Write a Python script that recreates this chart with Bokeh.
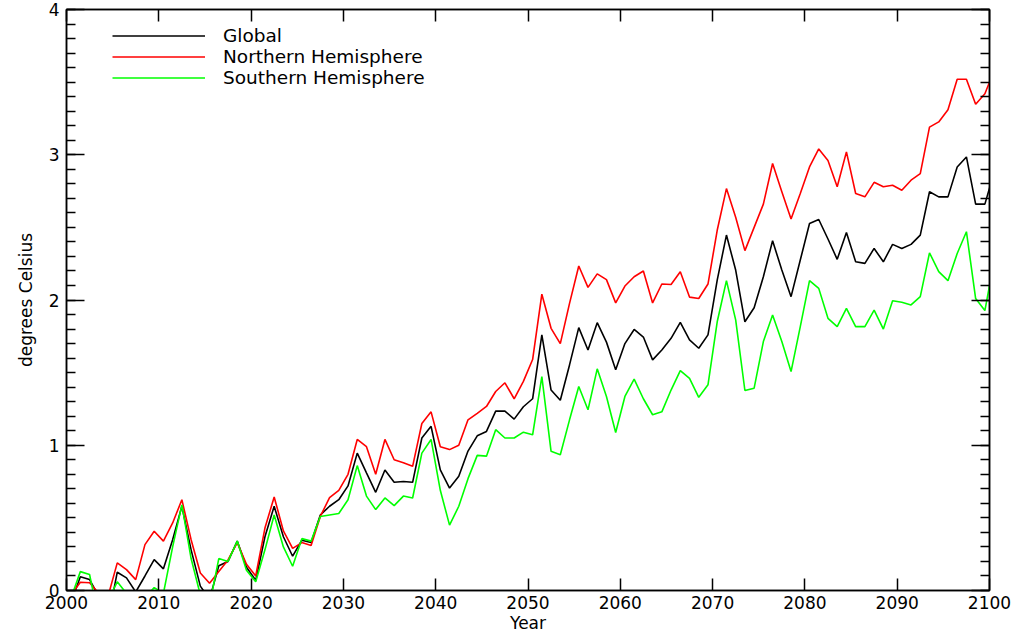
from bokeh.plotting import figure
from bokeh.models import (Range1d, SingleIntervalTicker, LinearAxis, Legend, LegendItem,
                          CustomJSTickFormatter)
from bokeh.embed import file_html
from bokeh.resources import INLINE

years = list(range(2000, 2101))

global_vals = [
    -0.08, 0.094, 0.075, -0.04, -0.2, 0.126, 0.087, -0.01, 0.10, 0.213,
    0.149, 0.35, 0.58, 0.28, 0.03, -0.06, 0.17, 0.20, 0.34, 0.16,
    0.07, 0.37, 0.58, 0.37, 0.236, 0.346, 0.33, 0.52, 0.58, 0.625,
    0.72, 0.946, 0.81, 0.676, 0.83, 0.745, 0.75, 0.745, 1.05, 1.13,
    0.83, 0.705, 0.786, 0.96, 1.065, 1.095, 1.235, 1.235, 1.18, 1.265,
    1.32, 1.76, 1.38, 1.31, 1.553, 1.81, 1.656, 1.844, 1.71, 1.52,
    1.70, 1.797, 1.745, 1.588, 1.656, 1.736, 1.846, 1.725, 1.668, 1.76,
    2.137, 2.447, 2.206, 1.85, 1.947, 2.16, 2.408, 2.206, 2.023, 2.275,
    2.527, 2.554, 2.42, 2.28, 2.465, 2.263, 2.252, 2.355, 2.263, 2.383,
    2.355, 2.383, 2.447, 2.745, 2.71, 2.71, 2.916, 2.985, 2.66, 2.66,
    2.88]

north_vals = [
    -0.03, 0.057, 0.053, -0.02, -0.04, 0.19, 0.144, 0.075, 0.316, 0.408,
    0.34, 0.465, 0.625, 0.35, 0.12, 0.05, 0.13, 0.21, 0.33, 0.18,
    0.10, 0.43, 0.644, 0.41, 0.29, 0.33, 0.31, 0.51, 0.64, 0.69,
    0.80, 1.04, 0.99, 0.80, 1.04, 0.90, 0.88, 0.855, 1.15, 1.23,
    0.99, 0.97, 1.0, 1.175, 1.22, 1.267, 1.37, 1.43, 1.32, 1.44,
    1.59, 2.04, 1.805, 1.70, 1.977, 2.234, 2.087, 2.18, 2.14, 1.98,
    2.096, 2.16, 2.20, 1.98, 2.11, 2.107, 2.195, 2.02, 2.01, 2.11,
    2.48, 2.767, 2.57, 2.34, 2.50, 2.66, 2.94, 2.745, 2.557, 2.733,
    2.916, 3.04, 2.96, 2.78, 3.02, 2.733, 2.71, 2.81, 2.78, 2.79,
    2.756, 2.825, 2.87, 3.19, 3.226, 3.31, 3.52, 3.52, 3.347, 3.42,
    3.58]

south_vals = [
    -0.05, 0.13, 0.11, -0.2, -0.07, 0.06, -0.02, -0.1, -0.05, 0.02,
    -0.02, 0.30, 0.59, 0.22, -0.03, -0.1, 0.22, 0.20, 0.34, 0.14,
    0.06, 0.28, 0.52, 0.30, 0.167, 0.357, 0.34, 0.51, 0.52, 0.53,
    0.625, 0.86, 0.65, 0.557, 0.637, 0.584, 0.65, 0.637, 0.946, 1.04,
    0.69, 0.45, 0.58, 0.77, 0.93, 0.925, 1.107, 1.05, 1.05, 1.09,
    1.072, 1.473, 0.958, 0.935, 1.175, 1.404, 1.244, 1.526, 1.336, 1.088,
    1.336, 1.455, 1.32, 1.21, 1.23, 1.38, 1.514, 1.46, 1.33, 1.416,
    1.85, 2.133, 1.863, 1.377, 1.393, 1.714, 1.897, 1.714, 1.507, 1.817,
    2.133, 2.08, 1.874, 1.817, 1.943, 1.817, 1.817, 1.93, 1.80, 1.995,
    1.984, 1.966, 2.023, 2.325, 2.195, 2.133, 2.32, 2.47, 2.01, 1.927,
    2.27]

series_names = ["Global", "Northern Hemisphere", "Southern Hemisphere"]
series_colors = ["#000000", "#ff0000", "#00ff00"]

# annual means plotted at mid-year
x = [y + 0.5 for y in years]

FONT = "DejaVu Sans"
FS = "17px"

p = figure(width=1024, height=635, output_backend="svg", toolbar_location=None,
           x_range=Range1d(2000, 2100), y_range=Range1d(0, 4),
           min_border_left=66, min_border_right=35, min_border_top=9, min_border_bottom=44,
           background_fill_color="white", border_fill_color="white")
p.grid.visible = False
p.outline_line_color = "black"
p.outline_line_width = 1.5

xt = SingleIntervalTicker(interval=10, num_minor_ticks=0)
yt = SingleIntervalTicker(interval=1, num_minor_ticks=10)

xa = p.xaxis[0]
xa.ticker = xt
xa.axis_label = "Year"
ya = p.yaxis[0]
ya.ticker = yt
ya.axis_label = "degrees Celsius"

for ax in (xa, ya):
    ax.major_tick_out = 0
    ax.minor_tick_out = 0
    ax.axis_line_width = 1.5
    ax.major_tick_line_width = 1.5
    ax.minor_tick_line_width = 1.5
    ax.major_label_text_font = FONT
    ax.major_label_text_font_size = FS
    ax.axis_label_text_font = FONT
    ax.axis_label_text_font_size = FS
    ax.axis_label_text_font_style = "normal"
    ax.major_label_text_color = "black"
    ax.axis_label_text_color = "black"

xa.major_tick_in = 12
xa.minor_tick_in = 0
xa.major_label_standoff = 5
xa.axis_label_standoff = 1
ya.major_tick_in = 18
ya.minor_tick_in = 9
ya.major_label_standoff = 7
ya.axis_label_standoff = 10

empty = CustomJSTickFormatter(code="return ''")
top = LinearAxis(ticker=SingleIntervalTicker(interval=10, num_minor_ticks=0), formatter=empty,
                 major_tick_in=12, major_tick_out=0, minor_tick_in=0, minor_tick_out=0,
                 major_label_text_font_size="0px", major_label_standoff=0,
                 axis_line_width=1.5, major_tick_line_width=1.5)
right = LinearAxis(ticker=SingleIntervalTicker(interval=1, num_minor_ticks=10), formatter=empty,
                   major_tick_in=18, major_tick_out=0, minor_tick_in=9, minor_tick_out=0,
                   major_label_text_font_size="0px", major_label_standoff=0,
                   axis_line_width=1.5, major_tick_line_width=1.5, minor_tick_line_width=1.5)
p.add_layout(top, "above")
p.add_layout(right, "right")

renderers = []
for vals, color in zip([global_vals, north_vals, south_vals], series_colors):
    r = p.line(x, vals, line_color=color, line_width=1.6)
    renderers.append(r)

legend = Legend(items=[LegendItem(label=n, renderers=[r]) for n, r in zip(series_names, renderers)],
                location=(46, 502), glyph_width=93, glyph_height=19, label_height=19,
                label_standoff=18, spacing=-3, padding=0, margin=0,
                background_fill_alpha=0, border_line_alpha=0,
                label_text_font=FONT, label_text_font_size="18.5px", label_text_color="black")
p.add_layout(legend)

open("out.html", "w").write(file_html(p, INLINE))
